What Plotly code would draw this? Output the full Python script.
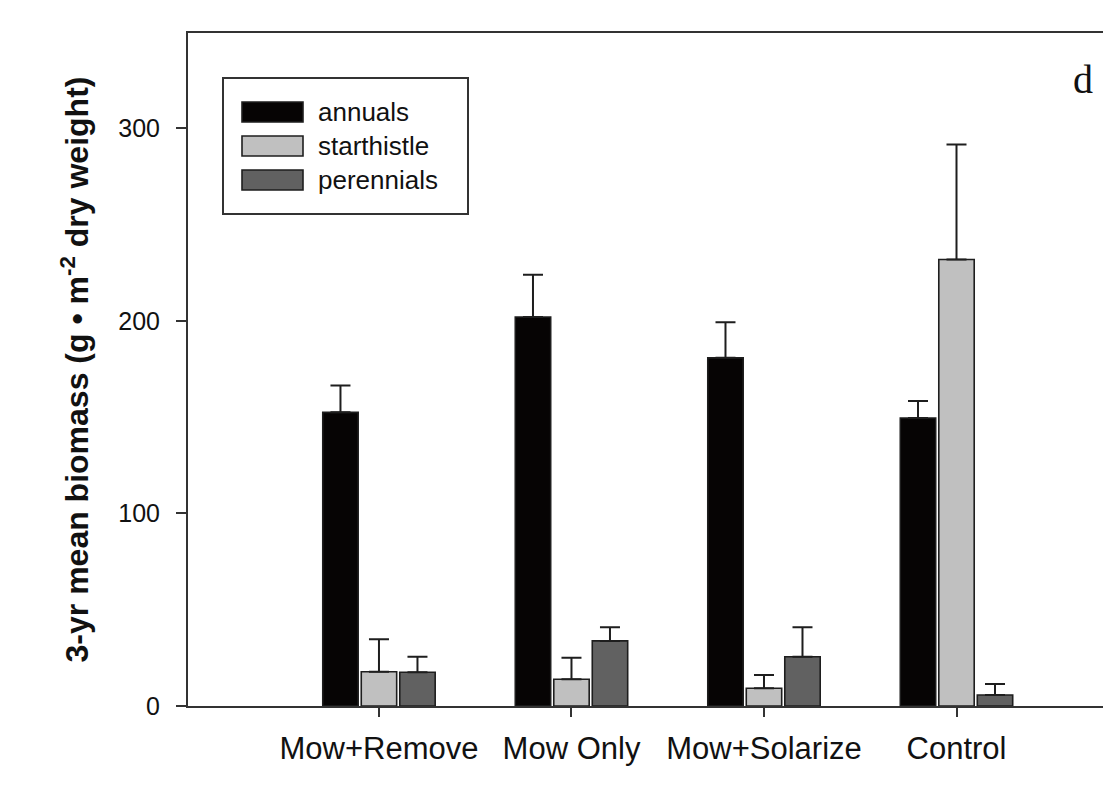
import plotly.graph_objects as go

categories = ["Mow+Remove", "Mow Only", "Mow+Solarize", "Control"]
series_names = ["annuals", "starthistle", "perennials"]
annuals = [152.5, 202.0, 180.8, 149.6]
annuals_err = [14.0, 22.0, 18.5, 8.8]
starthistle = [17.8, 13.9, 9.2, 231.9]
starthistle_err = [16.9, 11.2, 6.9, 59.7]
perennials = [17.5, 33.8, 25.6, 5.7]
perennials_err = [8.1, 7.1, 15.3, 5.7]
y_ticks = [0, 100, 200, 300]

values = [annuals, starthistle, perennials]
errors = [annuals_err, starthistle_err, perennials_err]
colors = ["#060404", "#c0c0c0", "#616161"]
edge = "#1e1e1e"

W, H = 1103, 798
L, R, T, B = 188, 0, 33, 92
PW, PH = W - L - R, H - T - B

def px(x):
    return (x - L) / PW

def py(y):
    return (H - B - y) / PH

fig = go.Figure()
for name, vals, errs, col in zip(series_names, values, errors, colors):
    fig.add_trace(go.Bar(
        x=categories, y=vals, name=name, showlegend=False,
        marker=dict(color=col, line=dict(color=edge, width=1.6)),
        error_y=dict(type="data", array=errs, arrayminus=[0] * len(errs),
                     symmetric=False, color=edge, thickness=2, width=10),
    ))

shapes = [dict(type="rect", xref="paper", yref="paper",
               x0=px(223), x1=px(468), y0=py(214), y1=py(78),
               line=dict(color="#333333", width=2), fillcolor="rgba(0,0,0,0)")]
annotations = []
row_centers = [112, 146, 180]
for name, col, yc in zip(series_names, colors, row_centers):
    shapes.append(dict(type="rect", xref="paper", yref="paper",
                       x0=px(242), x1=px(303), y0=py(yc + 10), y1=py(yc - 10),
                       line=dict(color=edge, width=1.6), fillcolor=col))
    annotations.append(dict(xref="paper", yref="paper", x=px(316), y=py(yc),
                            text=name, showarrow=False, xanchor="left", yanchor="middle",
                            font=dict(family="Liberation Sans, Arial", size=26, color="#111")))
annotations.append(dict(xref="paper", yref="paper", x=px(1083), y=py(80),
                        text="d", showarrow=False, xanchor="center", yanchor="middle",
                        font=dict(family="Liberation Serif, Times New Roman", size=40, color="#111")))

fig.update_layout(
    width=W, height=H,
    margin=dict(l=L, r=R, t=T, b=B),
    paper_bgcolor="white", plot_bgcolor="white",
    barmode="group", bargap=0.4, bargroupgap=0.08,
    shapes=shapes, annotations=annotations,
    font=dict(family="Liberation Sans, Arial", color="#111"),
    xaxis=dict(
        range=[-0.992, 3.761], showline=True, linecolor="#333333", linewidth=2,
        mirror=True, ticks="outside", ticklen=9, tickwidth=2, tickcolor="#333333",
        tickfont=dict(size=31, color="#111"), showgrid=False, zeroline=False,
        ticklabelstandoff=5, automargin=False,
    ),
    yaxis=dict(
        range=[0, 349.5], showline=True, linecolor="#333333", linewidth=2,
        ticks="outside", ticklen=10, tickwidth=2, tickcolor="#333333",
        tickvals=y_ticks, tickfont=dict(size=25, color="#111"),
        showgrid=False, zeroline=False, ticklabelstandoff=11,
        title=dict(text="<b>3-yr mean biomass (g \u2022 m<sup>-2</sup> dry weight)</b>",
                   font=dict(size=32, color="#111", family="Liberation Sans, Arial"),
                   standoff=20),
        automargin=False,
    ),
)
fig.write_html("out.html", config={"displayModeBar": False},
               post_script="document.body.style.margin='0';document.body.style.overflow='hidden';")
